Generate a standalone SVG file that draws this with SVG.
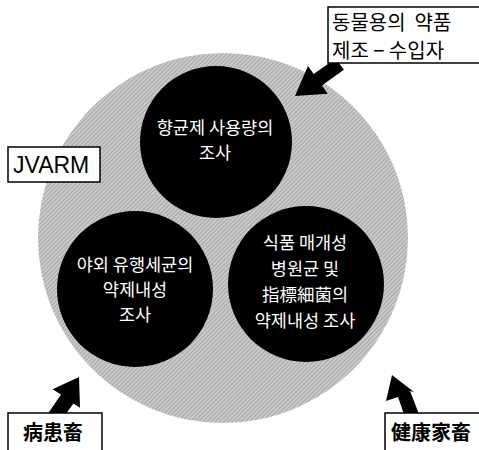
<svg xmlns="http://www.w3.org/2000/svg" width="479" height="450" viewBox="0 0 479 450">
<defs>
<pattern id="hatch" width="3" height="3" patternUnits="userSpaceOnUse" patternTransform="rotate(45)">
<rect width="3" height="3" fill="#cacaca"/>
<line x1="0" y1="0" x2="0" y2="3" stroke="#8e8e8e" stroke-width="1.2"/>
</pattern>
<style>
.box{fill:#fff;stroke:#000;stroke-width:1.5}
.lbl{font-family:"Noto Sans CJK KR","Liberation Sans",sans-serif;fill:#000}
.in{font-family:"Noto Sans CJK KR","Liberation Sans",sans-serif;fill:#fff;font-size:17.5px;text-anchor:middle}
.dot{fill:#000}
.arrow{fill:#000}
</style>
</defs>
<rect width="479" height="450" fill="#fff"/>
<g id="field">
<circle cx="223" cy="238" r="185" fill="url(#hatch)"/>
</g>
<g id="node-usage">
<circle class="dot" cx="216" cy="142" r="76"/>
<text class="in" x="215" y="134">향균제 사용량의</text>
<text class="in" x="215" y="159">조사</text>
</g>
<g id="node-wild">
<circle class="dot" cx="135" cy="289" r="78"/>
<text class="in" x="135" y="271">야외 유행세균의</text>
<text class="in" x="135" y="296">약제내성</text>
<text class="in" x="135" y="321">조사</text>
</g>
<g id="node-food">
<circle class="dot" cx="306" cy="284" r="78"/>
<text class="in" x="305" y="249">식품 매개성</text>
<text class="in" x="305" y="275">병원균 및</text>
<text class="in" x="305" y="301">指標細菌의</text>
<text class="in" x="305" y="327">약제내성 조사</text>
</g>
<g id="connectors">
<polygon class="arrow" points="295,96 327.7,93.7 321.9,85.5 343.9,69.8 335.7,58.4 313.7,74.1 307.9,65.9"/>
<polygon class="arrow" points="79,377 52.6,389.3 61,394.5 45,418 57,426 73.5,403.5 80,407.7"/>
<polygon class="arrow" points="392,375 386,401 398,397 406,420 419,414 410,391 414,392"/>
</g>
<g id="label-maker">
<rect class="box" x="328" y="7" width="160" height="56"/>
<text class="lbl" x="332" y="30" font-size="20" style="white-space:pre">동물용의  약품</text>
<text class="lbl" x="332" y="58" font-size="20" style="white-space:pre">제조 − 수입자</text>
</g>
<g id="label-jvarm">
<rect class="box" x="8" y="147" width="92" height="35"/>
<text x="13" y="173" font-family="Liberation Sans, Arial, sans-serif" font-size="23" fill="#000">JVARM</text>
</g>
<g id="label-sick">
<rect class="box" x="8" y="413" width="94" height="40"/>
<text class="lbl" x="23" y="440" font-size="20" font-weight="bold">病患畜</text>
</g>
<g id="label-healthy">
<rect class="box" x="385" y="413" width="100" height="40"/>
<text class="lbl" x="391" y="440" font-size="20" font-weight="bold">健康家畜</text>
</g>
</svg>
